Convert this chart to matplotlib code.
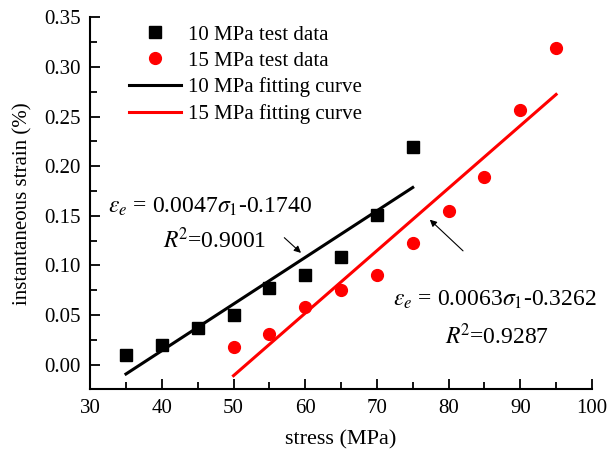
import matplotlib
matplotlib.use("Agg")
import numpy as np
import matplotlib.pyplot as plt

plt.rcParams['font.family'] = ['Liberation Serif', 'DejaVu Serif']
plt.rcParams['mathtext.fontset'] = 'stix'

# 10 MPa test data
stress_10 = [35, 40, 45, 50, 55, 60, 65, 70, 75]
strain_10 = [0.010, 0.020, 0.037, 0.050, 0.077, 0.090, 0.108, 0.151, 0.219]

# 15 MPa test data
stress_15 = [50, 55, 60, 65, 70, 75, 80, 85, 90, 95]
strain_15 = [0.018, 0.031, 0.058, 0.075, 0.090, 0.123, 0.155, 0.189, 0.257, 0.319]

# fitted coefficients (slope, intercept)
fit_10 = (0.0047, -0.1740)
fit_15 = (0.0063, -0.3262)

fig = plt.figure(figsize=(6.09, 4.57), dpi=100)
ax = fig.add_axes([0.148, 0.148, 0.824, 0.814])

ax.plot(stress_10, strain_10, 's', color='black', ms=8, ls='none',
        label='10 MPa test data')
ax.plot(stress_15, strain_15, 'o', color='red', ms=8.5, ls='none',
        label='15 MPa test data')

x10 = np.array([stress_10[0], stress_10[-1]])
x15 = np.array([stress_15[0], stress_15[-1]])
ax.plot(x10, fit_10[0] * x10 + fit_10[1], color='black', lw=2.2,
        label='10 MPa fitting curve')
ax.plot(x15, fit_15[0] * x15 + fit_15[1], color='red', lw=2.2,
        label='15 MPa fitting curve')

ax.set_xlim(30, 100)
ax.set_ylim(-0.025, 0.35)
ax.set_xticks(np.arange(30, 101, 10))
ax.set_xticks(np.arange(35, 100, 10), minor=True)
ax.set_yticks(np.arange(0, 0.351, 0.05))
ax.set_yticks(np.arange(-0.025, 0.35, 0.05), minor=True)
ax.set_yticklabels(['%.2f' % v for v in np.arange(0, 0.351, 0.05)])

for s in ['top', 'right']:
    ax.spines[s].set_visible(False)
for s in ['left', 'bottom']:
    ax.spines[s].set_linewidth(1.5)
ax.tick_params(which='major', direction='in', length=7, width=1.3,
               labelsize=15, pad=7)
ax.tick_params(which='minor', direction='in', length=5, width=1.3)

ax.set_xlabel('stress (MPa)', fontsize=16, labelpad=9)
ax.set_ylabel('instantaneous strain (%)', fontsize=15, labelpad=8)

ax.legend(loc='upper left', bbox_to_anchor=(0.04, 1.03), frameon=False,
          fontsize=15, handlelength=2.5, handletextpad=0.35,
          labelspacing=0.32)

ax.text(32.5, 0.159, r'$\varepsilon_e$ = 0.0047$\sigma_1$-0.1740',
        fontsize=17, va='center', ha='left')
ax.text(47.4, 0.125, r'$R$$^2$=0.9001', fontsize=17, va='center', ha='center')
ax.annotate('', xy=(59.7, 0.1107), xytext=(56.8, 0.1298),
            arrowprops=dict(arrowstyle='-|>', color='black', lw=0.8,
                            mutation_scale=10))

ax.text(72.3, 0.0654, r'$\varepsilon_e$ = 0.0063$\sigma_1$-0.3262',
        fontsize=17, va='center', ha='left')
ax.text(86.8, 0.028, r'$R$$^2$=0.9287', fontsize=17, va='center', ha='center')
ax.annotate('', xy=(77.1, 0.148), xytext=(82.3, 0.1127),
            arrowprops=dict(arrowstyle='-|>', color='black', lw=0.8,
                            mutation_scale=10))

fig.savefig('out.png', dpi=100)
